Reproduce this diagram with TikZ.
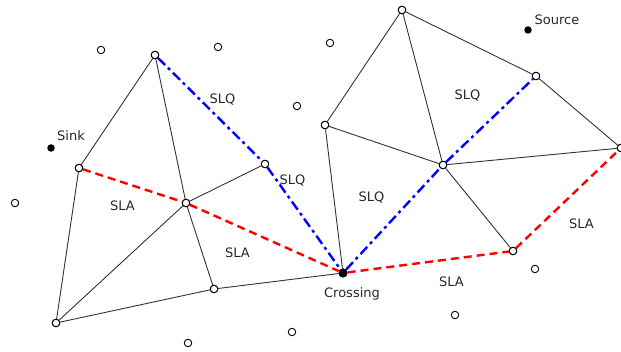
\documentclass[tikz,border=0pt]{standalone}
\usepackage{fontspec}
\setmainfont{DejaVu Sans}
\begin{document}
\begin{tikzpicture}[x=1pt,y=-1pt,
  vtx/.style={circle,draw=black,fill=white,line width=0.9pt,inner sep=0pt,minimum size=7.5pt},
  iso/.style={circle,draw=black,fill=white,line width=0.9pt,inner sep=0pt,minimum size=7.5pt},
  full/.style={circle,fill=black,inner sep=0pt,minimum size=9pt},
  edge/.style={draw=black!80,line width=0.9pt},
  sla/.style={draw=red,line width=2.4pt,dash pattern=on 8pt off 5pt},
  slq/.style={draw=blue,line width=2.4pt,dash pattern=on 10pt off 4pt on 3pt off 4pt},
  lbl/.style={font=\fontsize{13}{15}\selectfont,inner sep=0pt,text=black!85}]
\useasboundingbox (0,0) rectangle (621,352);
% vertices
\node[vtx] (A) at (155,55) {};
\node[vtx] (B) at (79,168) {};
\node[vtx] (C) at (186,203) {};
\node[vtx] (D) at (265,164) {};
\node[vtx] (E) at (56,323) {};
\node[vtx] (F) at (214,289) {};
\node[full] (X) at (343,273) {};
\node[vtx] (G) at (325,125) {};
\node[vtx] (H) at (402,10) {};
\node[vtx] (I) at (536,76) {};
\node[vtx] (J) at (443,165) {};
\node[vtx] (K) at (621,148) {};
\node[vtx] (L) at (513,251) {};
% isolated points
\node[iso] (p1) at (101,50) {};
\node[iso] (p2) at (218,47) {};
\node[iso] (p3) at (330,43) {};
\node[iso] (p4) at (297,106) {};
\node[iso] (p5) at (15,203) {};
\node[iso] (p6) at (188,343) {};
\node[iso] (p7) at (292,332) {};
\node[iso] (p8) at (455,315) {};
\node[iso] (p9) at (535,269) {};
\node[full,minimum size=7.5pt] (sink) at (51,148) {};
\node[full,minimum size=7.5pt] (source) at (528,30) {};
% edges
\path[edge] (A) -- (B) (A) -- (C) (C) -- (F) (B) -- (E) (E) -- (C) (E) -- (F)
  (C) -- (D) (F) -- (X) (G) -- (X) (G) -- (H) (G) -- (J) (H) -- (J) (H) -- (I)
  (I) -- (K) (J) -- (K) (J) -- (L);
\path[sla] (B) -- (C) -- (X) -- (L) -- (K);
\path[slq] (A) -- (D) -- (X) -- (J) -- (I);
% redraw vertices on top
\foreach \n in {A,B,C,D,F,E,G,H,I,J,K,L}{\node[vtx] at (\n) {};}
\node[full] at (X) {};
% labels
\node[lbl] (t1) at (222.5,100) {SLQ};
\node[lbl] (t2) at (292.5,181) {SLQ};
\node[lbl] (t3) at (371.5,198) {SLQ};
\node[lbl] (t4) at (467.5,96) {SLQ};
\node[lbl] (t5) at (122.5,205.5) {SLA};
\node[lbl] (t6) at (237.5,253) {SLA};
\node[lbl] (t7) at (451.5,282) {SLA};
\node[lbl] (t8) at (581.5,224) {SLA};
\node[lbl] (t9) at (71,136) {Sink};
\node[lbl] (t10) at (557,19.5) {Source};
\node[lbl] (t11) at (352,294) {Crossing};
\end{tikzpicture}
\end{document}
